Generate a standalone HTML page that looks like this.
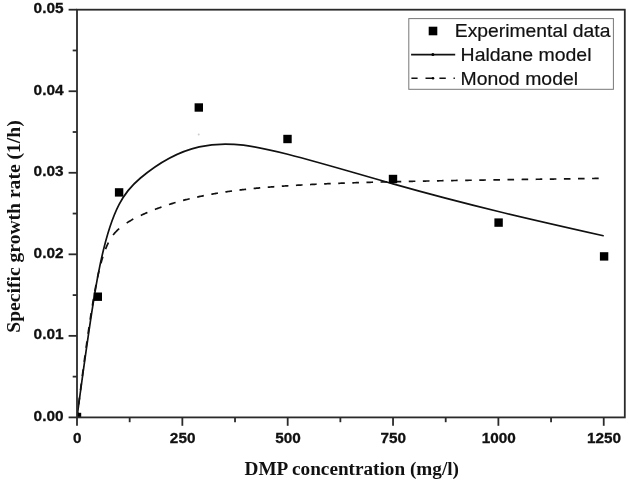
<!DOCTYPE html>
<html><head><meta charset="utf-8"><style>
html,body{margin:0;padding:0;background:#fff;}
svg{display:block;filter:grayscale(1) blur(0.3px);}
</style></head><body>
<svg width="629" height="481" viewBox="0 0 629 481">
<defs><clipPath id="c"><rect x="77" y="9.7" width="547.8" height="407.7"/></clipPath></defs>
<rect width="629" height="481" fill="#fff"/>
<g clip-path="url(#c)">
<path d="M77.00,417.40 C84.02,364.42 91.05,311.44 98.07,274.80 C105.09,238.16 112.12,217.86 119.14,204.36 C126.16,190.86 133.18,184.15 140.21,178.24 C159.87,161.68 179.54,151.33 199.20,146.86 C228.70,140.15 258.20,146.66 287.69,154.28 C322.81,163.35 357.92,173.99 393.04,183.90 C428.15,193.81 463.27,202.97 498.38,211.50 C533.50,220.03 568.62,227.92 603.73,235.81" fill="none" stroke="#111" stroke-width="1.7"/>
<path d="M77.00,417.40 L77.12,416.46 L77.24,415.53 L77.36,414.59 L77.48,413.66 L77.59,412.72 L77.71,411.79 M78.67,404.29 L78.79,403.34 L78.91,402.40 L79.03,401.45 L79.15,400.51 L79.27,399.57 L79.39,398.63 L79.51,397.69 M80.47,390.18 L80.59,389.24 L80.72,388.29 L80.84,387.35 L80.96,386.41 L81.08,385.46 L81.20,384.52 L81.32,383.58 M82.30,376.08 L82.42,375.13 L82.55,374.19 L82.67,373.24 L82.79,372.30 L82.92,371.36 L83.04,370.42 L83.17,369.48 M84.16,361.98 L84.29,361.03 L84.42,360.08 L84.54,359.14 L84.67,358.19 L84.80,357.25 L84.92,356.31 L85.05,355.38 M86.07,347.87 L86.21,346.92 L86.34,345.98 L86.47,345.03 L86.60,344.09 L86.73,343.15 L86.86,342.21 L86.99,341.27 M88.06,333.77 L88.20,332.82 L88.33,331.87 L88.47,330.92 L88.61,329.98 L88.75,329.04 L88.88,328.10 L89.02,327.17 M90.14,319.67 L90.29,318.71 L90.44,317.76 L90.58,316.81 L90.73,315.87 L90.87,314.93 L91.02,314.00 L91.17,313.07 M92.37,305.56 L92.53,304.60 L92.69,303.65 L92.84,302.70 L93.00,301.76 L93.16,300.82 L93.32,299.89 L93.48,298.96 M94.80,291.46 L94.98,290.49 L95.16,289.53 L95.33,288.58 L95.51,287.64 L95.69,286.70 L95.87,285.78 L96.04,284.86 M97.57,277.36 L97.78,276.37 L97.99,275.40 L98.20,274.45 L98.41,273.50 L98.63,272.58 L98.84,271.66 L99.05,270.76 M100.95,263.26 L101.22,262.25 L101.50,261.27 L101.78,260.31 L102.05,259.36 L102.33,258.44 L102.60,257.54 L102.88,256.66 M105.51,249.15 L105.93,248.10 L106.34,247.09 L106.76,246.12 L107.18,245.18 L107.60,244.27 L108.01,243.40 L108.43,242.55 M113.07,235.05 L113.94,233.95 L114.82,232.92 L115.69,231.97 L116.57,231.08 L117.44,230.23 L118.32,229.43 L119.19,228.66 M126.69,223.00 L127.64,222.39 L128.58,221.80 L129.52,221.23 L130.47,220.67 L131.41,220.13 L132.35,219.61 L133.29,219.10 M140.80,215.40 L141.74,214.96 L142.68,214.54 L143.63,214.11 L144.57,213.70 L145.51,213.28 L146.45,212.88 L147.40,212.47 M154.90,209.44 L155.84,209.08 L156.79,208.72 L157.73,208.37 L158.67,208.02 L159.62,207.68 L160.56,207.34 L161.50,207.01 M169.00,204.50 L169.95,204.20 L170.89,203.90 L171.83,203.61 L172.78,203.33 L173.72,203.04 L174.66,202.76 L175.60,202.49 M183.11,200.42 L184.05,200.17 L184.99,199.93 L185.94,199.69 L186.88,199.45 L187.82,199.22 L188.76,198.99 L189.71,198.76 M197.21,197.05 L198.15,196.84 L199.10,196.64 L200.04,196.44 L200.98,196.25 L201.92,196.05 L202.87,195.86 L203.81,195.67 M211.31,194.25 L212.26,194.08 L213.20,193.91 L214.14,193.75 L215.08,193.59 L216.03,193.43 L216.97,193.27 L217.91,193.11 M225.42,191.94 L226.36,191.80 L227.30,191.66 L228.24,191.52 L229.19,191.39 L230.13,191.26 L231.07,191.13 L232.02,191.00 M239.52,190.04 L240.46,189.92 L241.40,189.81 L242.35,189.70 L243.29,189.59 L244.23,189.49 L245.18,189.38 L246.12,189.28 M253.62,188.49 L254.56,188.40 L255.51,188.31 L256.45,188.22 L257.39,188.13 L258.34,188.04 L259.28,187.96 L260.22,187.87 M267.72,187.23 L268.67,187.16 L269.61,187.08 L270.55,187.01 L271.50,186.94 L272.44,186.86 L273.38,186.79 L274.32,186.72 M281.83,186.19 L282.77,186.13 L283.71,186.07 L284.66,186.01 L285.60,185.94 L286.54,185.88 L287.48,185.82 L288.43,185.76 M295.93,185.31 L296.87,185.25 L297.82,185.20 L298.76,185.15 L299.70,185.09 L300.65,185.04 L301.59,184.99 L302.53,184.94 M310.03,184.54 L310.98,184.50 L311.92,184.45 L312.86,184.40 L313.81,184.36 L314.75,184.31 L315.69,184.27 L316.63,184.22 M324.14,183.88 L325.08,183.84 L326.02,183.80 L326.97,183.76 L327.91,183.72 L328.85,183.68 L329.79,183.64 L330.74,183.61 M338.24,183.31 L339.18,183.28 L340.13,183.24 L341.07,183.21 L342.01,183.17 L342.95,183.14 L343.90,183.11 L344.84,183.07 M352.34,182.82 L353.29,182.79 L354.23,182.76 L355.17,182.73 L356.11,182.70 L357.06,182.67 L358.00,182.64 L358.94,182.61 M366.45,182.40 L367.39,182.37 L368.33,182.34 L369.27,182.32 L370.22,182.29 L371.16,182.26 L372.10,182.24 L373.05,182.21 M380.55,182.02 L381.49,182.00 L382.43,181.97 L383.38,181.95 L384.32,181.93 L385.26,181.90 L386.21,181.88 L387.15,181.86 M394.65,181.68 L395.59,181.66 L396.54,181.64 L397.48,181.62 L398.42,181.60 L399.37,181.58 L400.31,181.56 L401.25,181.53 M408.75,181.37 L409.70,181.35 L410.64,181.33 L411.58,181.31 L412.53,181.29 L413.47,181.27 L414.41,181.25 L415.35,181.24 M422.86,181.09 L423.80,181.07 L424.74,181.05 L425.69,181.03 L426.63,181.01 L427.57,180.99 L428.51,180.98 L429.46,180.96 M436.96,180.82 L437.90,180.80 L438.85,180.78 L439.79,180.77 L440.73,180.75 L441.68,180.73 L442.62,180.72 L443.56,180.70 M451.06,180.57 L452.01,180.55 L452.95,180.54 L453.89,180.52 L454.84,180.50 L455.78,180.49 L456.72,180.47 L457.66,180.46 M465.17,180.33 L466.11,180.32 L467.05,180.30 L468.00,180.29 L468.94,180.27 L469.88,180.26 L470.82,180.24 L471.77,180.23 M479.27,180.11 L480.21,180.09 L481.16,180.08 L482.10,180.07 L483.04,180.05 L483.98,180.04 L484.93,180.02 L485.87,180.01 M493.37,179.89 L494.32,179.88 L495.26,179.87 L496.20,179.85 L497.14,179.84 L498.09,179.82 L499.03,179.81 L499.97,179.80 M507.48,179.69 L508.42,179.67 L509.36,179.66 L510.30,179.64 L511.25,179.63 L512.19,179.62 L513.13,179.60 L514.08,179.59 M521.58,179.48 L522.52,179.47 L523.46,179.46 L524.41,179.44 L525.35,179.43 L526.29,179.41 L527.24,179.40 L528.18,179.39 M535.68,179.28 L536.62,179.27 L537.57,179.26 L538.51,179.24 L539.45,179.23 L540.40,179.22 L541.34,179.20 L542.28,179.19 M549.78,179.09 L550.73,179.07 L551.67,179.06 L552.61,179.05 L553.56,179.03 L554.50,179.02 L555.44,179.01 L556.38,178.99 M563.89,178.89 L564.83,178.88 L565.77,178.86 L566.72,178.85 L567.66,178.84 L568.60,178.83 L569.54,178.81 L570.49,178.80 M577.99,178.70 L578.93,178.69 L579.88,178.67 L580.82,178.66 L581.76,178.65 L582.71,178.63 L583.65,178.62 L584.59,178.61 M592.09,178.51 L593.04,178.49 L593.98,178.48 L594.92,178.47 L595.87,178.46 L596.81,178.44 L597.75,178.43 L598.69,178.42" fill="none" stroke="#111" stroke-width="1.7"/>
<g fill="#000"><rect x="72.80" y="412.80" width="8.4" height="8.4"/><rect x="93.60" y="292.50" width="8.4" height="8.4"/><rect x="114.90" y="188.20" width="8.4" height="8.4"/><rect x="194.60" y="103.30" width="8.4" height="8.4"/><rect x="283.30" y="134.80" width="8.4" height="8.4"/><rect x="388.80" y="174.80" width="8.4" height="8.4"/><rect x="494.40" y="218.40" width="8.4" height="8.4"/><rect x="599.90" y="252.20" width="8.4" height="8.4"/></g>
<circle cx="198.7" cy="134.4" r="1" fill="#ccc"/>
</g>
<g stroke="#2a2a2a" stroke-width="1.8" fill="none">
<rect x="77" y="9.7" width="547.8" height="407.7"/>
<line x1="68.6" y1="417.40" x2="77" y2="417.40"/><line x1="72.7" y1="376.63" x2="77" y2="376.63"/><line x1="68.6" y1="335.86" x2="77" y2="335.86"/><line x1="72.7" y1="295.09" x2="77" y2="295.09"/><line x1="68.6" y1="254.32" x2="77" y2="254.32"/><line x1="72.7" y1="213.55" x2="77" y2="213.55"/><line x1="68.6" y1="172.78" x2="77" y2="172.78"/><line x1="72.7" y1="132.01" x2="77" y2="132.01"/><line x1="68.6" y1="91.24" x2="77" y2="91.24"/><line x1="72.7" y1="50.47" x2="77" y2="50.47"/><line x1="68.6" y1="9.70" x2="77" y2="9.70"/><line x1="77.00" y1="417.4" x2="77.00" y2="425.8"/><line x1="129.67" y1="417.4" x2="129.67" y2="422.2"/><line x1="182.35" y1="417.4" x2="182.35" y2="425.8"/><line x1="235.02" y1="417.4" x2="235.02" y2="422.2"/><line x1="287.69" y1="417.4" x2="287.69" y2="425.8"/><line x1="340.37" y1="417.4" x2="340.37" y2="422.2"/><line x1="393.04" y1="417.4" x2="393.04" y2="425.8"/><line x1="445.71" y1="417.4" x2="445.71" y2="422.2"/><line x1="498.38" y1="417.4" x2="498.38" y2="425.8"/><line x1="551.06" y1="417.4" x2="551.06" y2="422.2"/><line x1="603.73" y1="417.4" x2="603.73" y2="425.8"/>
</g>
<g font-family="Liberation Sans" font-weight="bold" fill="#111" stroke="#111" stroke-width="0.3">
<g font-size="15.0"><text x="63.6" y="420.90" text-anchor="end" textLength="29.97" lengthAdjust="spacingAndGlyphs">0.00</text><text x="63.6" y="339.36" text-anchor="end" textLength="29.97" lengthAdjust="spacingAndGlyphs">0.01</text><text x="63.6" y="257.82" text-anchor="end" textLength="29.97" lengthAdjust="spacingAndGlyphs">0.02</text><text x="63.6" y="176.28" text-anchor="end" textLength="29.97" lengthAdjust="spacingAndGlyphs">0.03</text><text x="63.6" y="94.74" text-anchor="end" textLength="29.97" lengthAdjust="spacingAndGlyphs">0.04</text><text x="63.6" y="13.20" text-anchor="end" textLength="29.97" lengthAdjust="spacingAndGlyphs">0.05</text></g>
<g font-size="15.0"><text x="77.30" y="442.65" text-anchor="middle" textLength="8.51" lengthAdjust="spacingAndGlyphs">0</text><text x="182.65" y="442.65" text-anchor="middle" textLength="25.52" lengthAdjust="spacingAndGlyphs">250</text><text x="287.99" y="442.65" text-anchor="middle" textLength="25.52" lengthAdjust="spacingAndGlyphs">500</text><text x="393.34" y="442.65" text-anchor="middle" textLength="25.52" lengthAdjust="spacingAndGlyphs">750</text><text x="498.68" y="442.65" text-anchor="middle" textLength="34.03" lengthAdjust="spacingAndGlyphs">1000</text><text x="604.03" y="442.65" text-anchor="middle" textLength="34.03" lengthAdjust="spacingAndGlyphs">1250</text></g>
</g>
<text x="244.6" y="475.0" font-family="Liberation Serif" font-weight="bold" font-size="18.6" textLength="214.4" lengthAdjust="spacingAndGlyphs" fill="#111">DMP concentration (mg/l)</text>
<text transform="translate(19.9,332.7) rotate(-90)" font-family="Liberation Serif" font-weight="bold" font-size="19.5" textLength="212.4" lengthAdjust="spacingAndGlyphs" fill="#111">Specific growth rate (1/h)</text>
<rect x="408.8" y="18.6" width="204.6" height="70.7" fill="#fff" stroke="#777" stroke-width="1"/>
<rect x="428.7" y="26.7" width="8.6" height="8.6" fill="#000"/>
<line x1="411.1" y1="54.6" x2="455.2" y2="54.6" stroke="#111" stroke-width="1.6"/>
<circle cx="432.9" cy="54.6" r="1.5" fill="#000"/>
<path d="M411.4,78.3H417.6M425.5,78.3H432.5M439.4,78.3H445.8M453.5,78.3H454.9" stroke="#111" stroke-width="1.6" fill="none"/><circle cx="433" cy="78.3" r="1.3" fill="#000"/>
<g font-family="Liberation Sans" font-size="18.6" fill="#111" stroke="#111" stroke-width="0.2">
<text x="454.8" y="37.0" textLength="155.6" lengthAdjust="spacingAndGlyphs">Experimental data</text>
<text x="460.6" y="60.7" textLength="130.9" lengthAdjust="spacingAndGlyphs">Haldane model</text>
<text x="460.6" y="84.9" textLength="117.4" lengthAdjust="spacingAndGlyphs">Monod model</text>
</g>
</svg>
</body></html>
